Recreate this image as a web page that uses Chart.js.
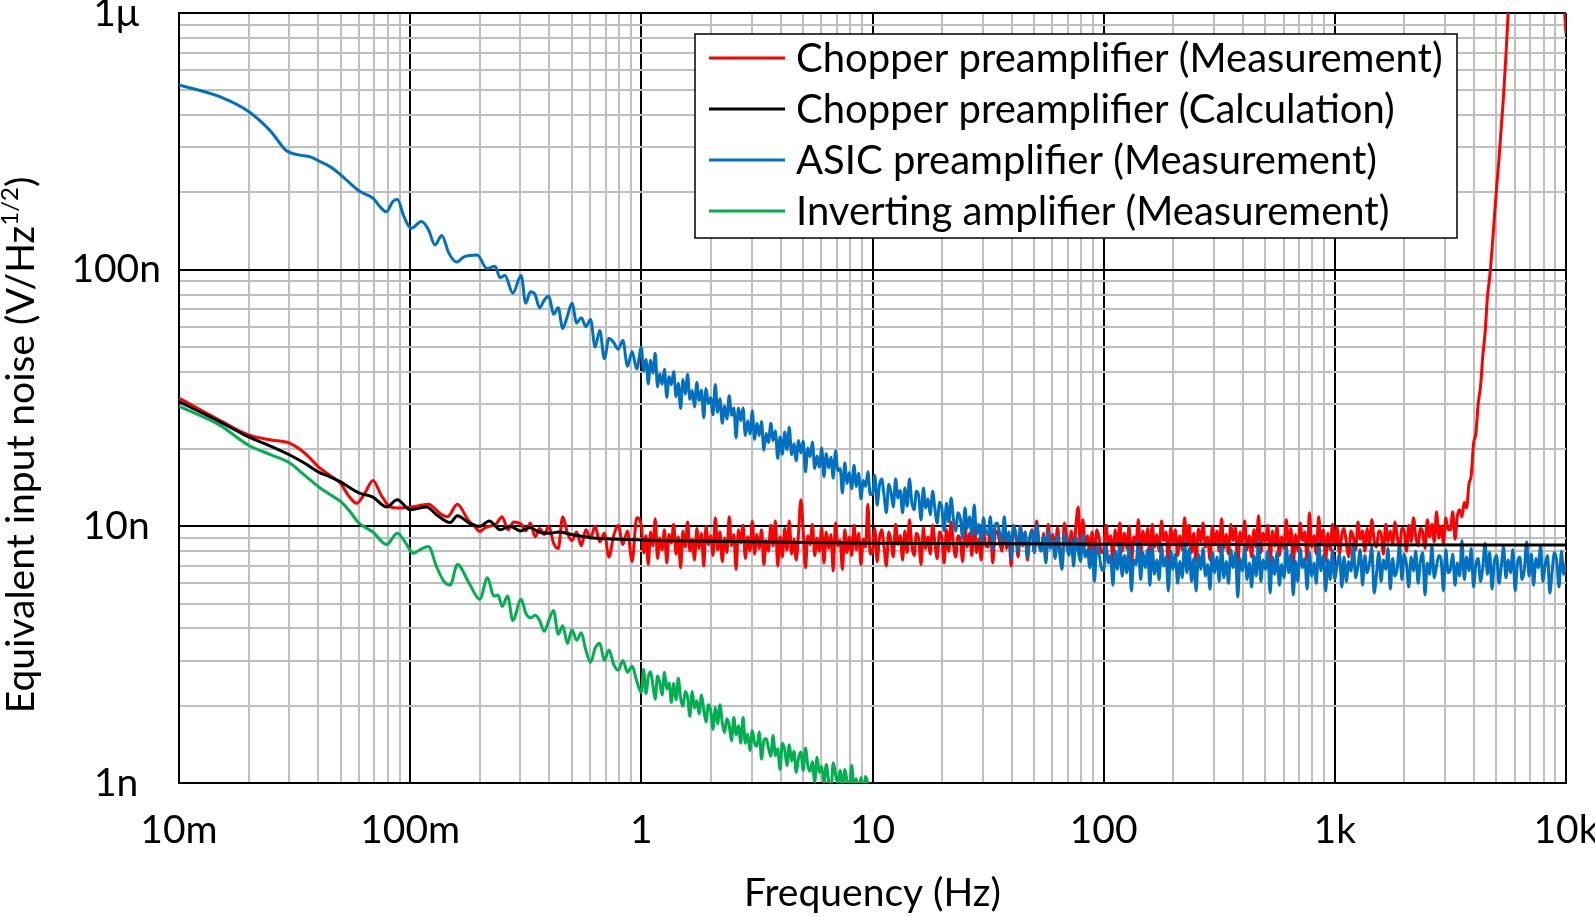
<!DOCTYPE html>
<html>
<head>
<meta charset="utf-8">
<script src="https://cdn.jsdelivr.net/npm/chart.js@4.4.1/dist/chart.umd.min.js"></script>
<style>
  html, body { margin: 0; padding: 0; background: #fff; }
  #wrap { width: 1595px; height: 917px; }
</style>
</head>
<body>
<div id="wrap"><canvas id="noise-chart"></canvas></div>
<script>
// values are in nV/Hz^1/2, frequency in Hz
const seriesLabels = [
  'Chopper preamplifier (Measurement)',
  'Chopper preamplifier (Calculation)',
  'ASIC preamplifier (Measurement)',
  'Inverting amplifier (Measurement)'
];
const seriesColors = ['#ff0000', '#000000', '#0070c0', '#00b050'];

const xTickValues = [0.01, 0.1, 1, 10, 100, 1000, 10000];
const xTickLabels = ['10m', '100m', '1', '10', '100', '1k', '10k'];
const yTickValues = [1, 10, 100, 1000];
const yTickLabels = ['1n', '10n', '100n', '1\u03bc'];

// spectrum bins shared by the noisy measurements (0.3 Hz .. 10 kHz)
const fftFreq = [
  0.302, 0.316, 0.331, 0.347, 0.363, 0.380, 0.398, 0.417, 0.437, 0.457, 0.479, 0.501, 0.525, 0.550, 0.575, 0.603, 0.631, 0.661, 0.692, 0.724, 0.759, 0.794, 0.832, 0.871, 0.912, 0.955,
  1, 1.023, 1.047, 1.072, 1.096, 1.122, 1.148, 1.175, 1.202, 1.23, 1.259, 1.288, 1.318, 1.349, 1.38, 1.413, 1.445, 1.479, 1.514, 1.549,
  1.585, 1.622, 1.66, 1.698, 1.738, 1.778, 1.82, 1.862, 1.905, 1.95, 1.995, 2.042, 2.089, 2.138, 2.188, 2.239, 2.291, 2.344, 2.399, 2.455,
  2.512, 2.57, 2.63, 2.692, 2.754, 2.818, 2.884, 2.951, 3.02, 3.09, 3.162, 3.236, 3.311, 3.388, 3.467, 3.548, 3.631, 3.715, 3.802, 3.89,
  3.981, 4.074, 4.169, 4.266, 4.365, 4.467, 4.571, 4.677, 4.786, 4.898, 5.012, 5.129, 5.248, 5.37, 5.495, 5.623, 5.754, 5.888, 6.026, 6.166,
  6.31, 6.457, 6.607, 6.761, 6.918, 7.079, 7.244, 7.413, 7.586, 7.762, 7.943, 8.128, 8.318, 8.511, 8.71, 8.913, 9.12, 9.333, 9.55, 9.772,
  10, 10.23, 10.47, 10.72, 10.96, 11.22, 11.48, 11.75, 12.02, 12.3, 12.59, 12.88, 13.18, 13.49, 13.8, 14.13, 14.45, 14.79, 15.14, 15.49,
  15.85, 16.22, 16.6, 16.98, 17.38, 17.78, 18.2, 18.62, 19.05, 19.5, 19.95, 20.42, 20.89, 21.38, 21.88, 22.39, 22.91, 23.44, 23.99, 24.55,
  25.12, 25.7, 26.3, 26.92, 27.54, 28.18, 28.84, 29.51, 30.2, 30.9, 31.62, 32.36, 33.11, 33.88, 34.67, 35.48, 36.31, 37.15, 38.02, 38.9,
  39.81, 40.74, 41.69, 42.66, 43.65, 44.67, 45.71, 46.77, 47.86, 48.98, 50.12, 51.29, 52.48, 53.7, 54.95, 56.23, 57.54, 58.88, 60.26, 61.66,
  63.1, 64.57, 66.07, 67.61, 69.18, 70.79, 72.44, 74.13, 75.86, 77.62, 79.43, 81.28, 83.18, 85.11, 87.1, 89.13, 91.2, 93.33, 95.5, 97.72,
  100, 102.3, 104.7, 107.2, 109.6, 112.2, 114.8, 117.5, 120.2, 123, 125.9, 128.8, 131.8, 134.9, 138, 141.3, 144.5, 147.9, 151.4, 154.9,
  158.5, 162.2, 166, 169.8, 173.8, 177.8, 182, 186.2, 190.5, 195, 199.5, 204.2, 208.9, 213.8, 218.8, 223.9, 229.1, 234.4, 239.9, 245.5,
  251.2, 257, 263, 269.2, 275.4, 281.8, 288.4, 295.1, 302, 309, 316.2, 323.6, 331.1, 338.8, 346.7, 354.8, 363.1, 371.5, 380.2, 389,
  398.1, 407.4, 416.9, 426.6, 436.5, 446.7, 457.1, 467.7, 478.6, 489.8, 501.2, 512.9, 524.8, 537, 549.5, 562.3, 575.4, 588.8, 602.6, 616.6,
  631, 645.7, 660.7, 676.1, 691.8, 707.9, 724.4, 741.3, 758.6, 776.2, 794.3, 812.8, 831.8, 851.1, 871, 891.3, 912, 933.3, 955, 977.2,
  1000, 1023, 1047, 1072, 1096, 1122, 1148, 1175, 1202, 1230, 1259, 1288, 1318, 1349, 1380, 1413, 1445, 1479, 1514, 1549,
  1585, 1622, 1660, 1698, 1738, 1778, 1820, 1862, 1905, 1950, 1995, 2042, 2089, 2138, 2188, 2239, 2291, 2344, 2399, 2455,
  2512, 2570, 2630, 2692, 2754, 2818, 2884, 2951, 3020, 3090, 3162, 3236, 3311, 3388, 3467, 3548, 3631, 3715, 3802, 3890,
  3981, 4074, 4169, 4266, 4365, 4467, 4571, 4677, 4786, 4898, 5012, 5129, 5248, 5370, 5495, 5623, 5754, 5888, 6026, 6166,
  6310, 6457, 6607, 6761, 6918, 7079, 7244, 7413, 7586, 7762, 7943, 8128, 8318, 8511, 8710, 8913, 9120, 9333, 9550, 9772,
  10000
];

// Chopper preamplifier (Measurement)
const chopperLowFreq = [0.01, 0.015, 0.02, 0.025, 0.03, 0.035, 0.04, 0.045, 0.05, 0.054, 0.0587, 0.064, 0.069, 0.075, 0.082, 0.09, 0.1, 0.11, 0.12, 0.135, 0.145, 0.16, 0.178, 0.19, 0.2, 0.21, 0.22, 0.235, 0.25, 0.265, 0.28];
const chopperLow = [31.6, 25.9, 22.7, 21.7, 21.1, 19.3, 17.1, 15.8, 14.7, 13.2, 12.3, 13.6, 15.1, 13.2, 11.9, 11.8, 11.9, 12.05, 12.2, 11.2, 10.9, 12.2, 10.6, 10.0, 9.55, 9.85, 10.0, 10.2, 10.9, 9.7, 10.4];
const chopperFft = [
  10.2, 9.6, 10.3, 9.1, 9.8, 9.3, 10.0, 8.6, 8.2, 10.9, 9.4, 8.8, 9.5, 8.4, 9.7, 9.0, 10.0, 8.7, 9.4, 7.6, 9.2, 10.1, 8.5, 9.6, 7.3, 10.8,
  10.1, 7.9, 9.2, 7.1, 9.5, 8.4, 10.7, 7.5, 9.0, 8.1, 9.7, 7.2, 9.3, 8.6, 10.2, 7.8, 9.1, 6.9, 9.6, 8.3,
  10.4, 8.0, 8.9, 7.4, 9.8, 8.2, 9.4, 7.0, 10.0, 8.5, 9.2, 7.7, 10.8, 8.1, 9.5, 7.3, 9.0, 7.9, 10.9, 8.4,
  9.3, 6.8, 9.7, 8.6, 10.1, 7.5, 9.1, 8.0, 10.5, 7.8, 9.3, 8.2, 9.7, 7.1, 8.8, 8.0, 10.1, 8.4, 10.5, 7.0,
  9.1, 7.6, 9.8, 8.1, 10.5, 7.8, 8.9, 7.4, 9.4, 12.7, 9.6, 6.9, 9.2, 8.5, 10.2, 7.7, 9.0, 8.0, 9.9, 7.2,
  9.5, 8.2, 9.3, 6.7, 10.3, 8.4, 8.8, 6.8, 9.7, 7.9, 9.1, 7.7, 10.1, 8.1, 9.4, 7.1, 8.9, 8.3, 12.2, 7.8,
  8.0, 9.8, 7.3, 9.0, 9.7, 8.3, 7.0, 9.5, 8.8, 7.6, 10.2, 8.5, 9.2, 7.4, 9.6, 7.9, 10.6, 8.4, 7.7, 9.4,
  8.9, 7.1, 9.9, 8.2, 9.1, 7.8, 10.1, 8.6, 7.5, 9.5, 9.0, 7.2, 9.7, 8.0, 10.4, 8.5, 7.6, 9.2, 8.8, 7.3,
  10.0, 8.3, 9.4, 7.7, 10.7, 7.9, 8.9, 7.4, 9.6, 8.4, 8.3, 10.1, 7.2, 9.3, 9.6, 8.7, 8.0, 10.4, 8.2, 9.1,
  7.0, 9.9, 9.2, 7.6, 10.0, 8.4, 9.5, 7.4, 9.0, 9.7, 7.9, 10.5, 8.6, 8.1, 9.4, 7.3, 10.2, 8.5, 9.3, 7.7,
  9.9, 8.2, 7.1, 10.3, 9.1, 8.3, 9.6, 7.5, 10.1, 11.9, 8.0, 10.6, 8.4, 9.2, 7.7, 9.5, 7.4, 9.7, 9.0, 7.9,
  8.1, 10.1, 8.6, 9.2, 7.4, 9.7, 8.4, 10.3, 8.0, 9.4, 8.2, 10.0, 7.1, 9.1, 8.7, 10.6, 7.8, 9.6, 8.5, 9.8,
  7.6, 10.2, 8.3, 9.3, 8.0, 10.5, 8.8, 9.5, 7.2, 9.9, 8.6, 9.7, 7.7, 9.2, 8.1, 10.8, 8.4, 10.1, 7.9, 9.4,
  7.3, 9.8, 8.7, 10.3, 8.3, 9.1, 7.4, 10.0, 8.5, 9.6, 8.0, 10.7, 8.2, 9.3, 7.8, 10.2, 8.8, 9.9, 7.0, 9.5,
  8.6, 10.5, 8.1, 9.2, 7.6, 9.7, 8.3, 11.0, 7.9, 9.4, 8.7, 10.1, 7.2, 9.6, 8.4, 10.0, 7.7, 9.1, 8.2, 10.6,
  8.5, 9.8, 7.1, 9.3, 8.0, 10.3, 8.8, 9.5, 7.4, 11.3, 8.3, 9.2, 7.8, 10.9, 8.6, 9.7, 7.3, 9.4, 8.1, 10.2,
  8.5, 9.9, 7.8, 9.3, 9.8, 8.6, 7.6, 9.6, 9.1, 8.1, 10.4, 8.9, 9.6, 8.0, 9.8, 8.5, 10.6, 8.8, 8.3, 9.6,
  9.4, 7.8, 10.2, 8.7, 9.6, 8.5, 10.4, 9.1, 8.2, 9.8, 9.6, 8.0, 10.1, 8.7, 10.8, 9.1, 8.4, 9.8, 9.5, 8.2,
  10.6, 9.1, 10.2, 8.7, 11.4, 9.0, 10.0, 8.6, 10.8, 9.7, 9.7, 11.4, 8.9, 11.0, 11.6, 10.9, 12.4, 11.8, 14.6, 15.8,
  21, 23, 30, 35, 46, 57, 78, 94, 120, 160, 210, 270, 360, 480, 680, 1000, 1400, 2000, 2800, 3600,
  4500, 5500, 6500, 7500, 8000, 8500, 9000, 9000, 9000, 8500, 8000, 7000, 6000, 5000, 4000, 3200, 2500, 2000, 1500, 1150,
  830
];

// Chopper preamplifier (Calculation)
const calcFreq = [0.01, 0.015, 0.02, 0.025, 0.03, 0.035, 0.04, 0.045, 0.05, 0.06, 0.069, 0.079, 0.088, 0.1, 0.118, 0.13, 0.149, 0.16, 0.18, 0.2, 0.22, 0.245, 0.27, 0.3, 0.33, 0.36, 0.4, 0.44, 0.5, 0.62, 0.8, 1.2, 3, 10, 100, 1000, 10000];
const calcNoise = [30.6, 25.6, 22.3, 20.5, 19.0, 17.6, 16.3, 15.6, 14.9, 13.5, 13.0, 11.9, 12.7, 11.6, 11.9, 11.1, 10.35, 11.0, 10.3, 10.0, 10.5, 9.7, 10.0, 9.6, 9.9, 9.5, 9.4, 9.5, 9.3, 9.0, 8.9, 8.8, 8.7, 8.6, 8.52, 8.48, 8.45];

// ASIC preamplifier (Measurement)
const asicLowFreq = [0.01, 0.015, 0.02, 0.025, 0.029, 0.033, 0.037, 0.041, 0.045, 0.049, 0.055, 0.061, 0.069, 0.074, 0.079, 0.084, 0.088, 0.094, 0.101, 0.112, 0.12, 0.128, 0.137, 0.147, 0.159, 0.17, 0.195, 0.215, 0.233, 0.245, 0.257, 0.278];
const asicLow = [525, 472, 413, 345, 292, 280, 275, 263, 252, 238, 217, 201, 190, 176, 168, 184, 188, 161, 145, 154, 143, 125, 136, 116, 107, 112, 114, 101, 103, 93, 95, 81];
const asicFft = [
  95, 74, 82, 80, 71, 76, 79, 67, 71, 59, 66, 74, 62, 65, 60, 64, 50, 58, 45, 54, 52, 49, 53, 42, 48, 41,
  49.8, 40.2, 44.7, 35.9, 44.4, 39.5, 47.2, 34.9, 39.3, 35.7, 40.9, 31.8, 38.3, 35.6, 40.1, 32, 36.1, 28.8, 37.3, 32.8,
  39.1, 31.3, 33.8, 29.2, 36.3, 30.9, 33.9, 26.5, 34.4, 30.1, 31.7, 27.2, 35.7, 27.8, 31.4, 25.2, 29.4, 26.2, 32.3, 27.1,
  28.9, 22.1, 28.9, 25.8, 28.9, 22.6, 25.8, 22.9, 28.2, 21.8, 25.2, 22.6, 25.6, 19.8, 23, 21.2, 25.2, 21.6, 23.5, 18.4,
  22.3, 19.1, 23.3, 19.9, 24.3, 19, 21, 18, 21.6, 19.3, 21.5, 16.3, 20.2, 18.7, 21.3, 16.8, 18.8, 17, 20.2, 15.6,
  19.2, 16.9, 18.6, 15.4, 19.7, 16.5, 16.8, 13.5, 17.7, 14.7, 16.2, 14, 17.3, 14.3, 16.1, 12.8, 15.1, 14.3, 16.3, 13.3,
  13.4, 15.8, 12.1, 14.5, 15.3, 13.2, 11.3, 14.6, 13.6, 11.9, 15.3, 12.9, 13.8, 11.3, 14.1, 12, 15.3, 12.4, 11.6, 13.7,
  13.1, 10.6, 14.1, 11.8, 12.8, 11.1, 13.7, 11.7, 10.3, 12.4, 11.8, 9.6, 12.3, 10.4, 12.9, 10.7, 9.6, 11.3, 10.7, 9,
  11.8, 9.8, 10.9, 9.2, 12.1, 9.3, 10.2, 8.6, 10.8, 9.5, 9.3, 10.9, 8.1, 10.1, 10.3, 9.4, 8.7, 10.9, 8.7, 9.5,
  7.5, 10.1, 9.4, 8, 10, 8.6, 9.5, 7.6, 9, 9.6, 7.9, 10.2, 8.5, 8, 9.1, 7.2, 9.6, 8.2, 8.8, 7.5,
  9.2, 7.8, 6.8, 9.4, 8.4, 7.7, 8.8, 7, 9.1, 8, 7.3, 9.3, 7.6, 8.1, 6.9, 8.3, 6.1, 8.4, 7.8, 6.9,
  6.7, 8.6, 7.2, 7.7, 5.9, 8.0, 6.8, 8.6, 6.4, 7.7, 6.6, 8.3, 5.6, 7.4, 7.1, 8.8, 6.2, 7.9, 6.9, 8.1,
  5.9, 8.3, 6.5, 7.4, 6.2, 8.4, 7.0, 7.6, 5.6, 8.0, 6.8, 7.8, 6.0, 7.3, 6.3, 8.7, 6.6, 8.2, 6.1, 7.5,
  5.6, 7.8, 6.8, 8.2, 6.4, 7.1, 5.7, 7.9, 6.6, 7.6, 6.1, 8.5, 6.3, 7.3, 6.0, 8.1, 6.9, 7.9, 5.3, 7.5,
  6.7, 8.3, 6.2, 7.2, 5.8, 7.7, 6.4, 8.8, 6.1, 7.4, 6.8, 8.0, 5.5, 7.6, 6.5, 7.9, 5.9, 7.1, 6.3, 8.4,
  6.6, 7.8, 5.4, 7.3, 6.1, 8.2, 6.9, 7.5, 5.7, 7.9, 6.4, 7.2, 6.0, 8.7, 6.7, 7.7, 5.6, 7.4, 6.2, 8.1,
  6.2, 7.1, 7.8, 5.8, 7.6, 6.1, 7.3, 6.7, 8.6, 6.3, 7.0, 8.1, 5.9, 7.7, 6.6, 7.2, 8.3, 5.5, 6.5, 7.9,
  6.1, 7.4, 6.8, 8.2, 5.7, 7.5, 6.4, 6.9, 8.5, 6.2, 7.8, 7.1, 5.8, 7.6, 6.7, 8.0, 6.0, 7.3, 7.9, 5.4,
  7.2, 6.5, 8.4, 6.3, 7.0, 7.7, 7.4, 5.6, 8.1, 6.6, 6.8, 7.8, 5.9, 7.2, 6.4, 8.8, 6.2, 7.6, 6.7, 8.2,
  5.8, 7.1, 7.5, 6.1, 6.9, 8.6, 6.5, 7.9, 5.7, 7.3, 7.7, 6.0, 7.0, 8.3, 6.3, 7.4, 6.6, 8.1, 5.6, 7.2,
  7.6, 6.2, 6.8, 8.7, 6.4, 7.8, 5.9, 7.5, 6.9, 8.4, 6.1, 7.1, 7.7, 5.5, 6.7, 7.9, 7.3, 5.8, 8.0, 6.5,
  7.2
];

// Inverting amplifier (Measurement), ends at 10 Hz
const invLowFreq = [0.01, 0.015, 0.02, 0.025, 0.03, 0.035, 0.04, 0.045, 0.05, 0.055, 0.06, 0.069, 0.079, 0.088, 0.095, 0.103, 0.11, 0.12, 0.13, 0.14, 0.149, 0.16, 0.18, 0.2, 0.216, 0.23, 0.24, 0.25, 0.264, 0.278];
const invLow = [29.4, 24.8, 20.7, 19.0, 17.7, 15.8, 14.3, 13.3, 12.5, 11.4, 10.3, 9.5, 8.5, 9.4, 8.7, 7.85, 8.1, 8.35, 6.97, 6.1, 5.9, 7.1, 6.0, 5.2, 6.3, 5.35, 5.4, 4.87, 5.35, 4.3];
const invFft = [
  5.2, 4.6, 4.4, 4.5, 4.3, 3.9, 4.3, 4.7, 3.8, 4.1, 3.5, 3.95, 3.6, 3.85, 3.3, 2.95, 3.35, 3.5, 3.0, 3.3, 2.9, 2.75, 3.0, 2.7, 2.85, 2.5,
  2.25, 2.77, 2.23, 2.59, 2.71, 2.41, 2.12, 2.61, 2.46, 2.2, 2.7, 2.33, 2.45, 2.06, 2.44, 2.11, 2.56, 2.14, 1.99, 2.27,
  2.16, 1.82, 2.27, 1.96, 2.09, 1.86, 2.2, 1.93, 1.73, 2.02, 1.92, 1.62, 1.97, 1.7, 2.02, 1.72, 1.57, 1.78, 1.68, 1.46,
  1.8, 1.54, 1.67, 1.43, 1.8, 1.43, 1.55, 1.34, 1.6, 1.43, 1.39, 1.58, 1.24, 1.46, 1.49, 1.37, 1.27, 1.53, 1.28, 1.36,
  1.13, 1.43, 1.35, 1.17, 1.41, 1.22, 1.33, 1.1, 1.25, 1.32, 1.12, 1.37, 1.17, 1.11, 1.21, 1.01, 1.26, 1.1, 1.16, 1.0,
  1.18, 1.02, 0.92, 1.2, 1.08, 1.0, 1.12, 0.93, 1.13, 1.02, 0.95, 1.17, 0.97, 1.04, 0.91, 1.05, 0.87, 1.06, 0.99, 0.9,
  0.95
];

const FONT = 'Lato, "Open Sans", sans-serif';
const FONT_SIZE = 39;
const LEGEND_SIZE = 40;

function toPoints(freqs, values) {
  return freqs.map((f, i) => ({ x: f, y: values[i] }));
}

function gridValues(decades) {
  const out = [];
  decades.forEach((d, i) => {
    if (i === decades.length - 1) { out.push(d); return; }
    for (let m = 1; m <= 9; m++) out.push(+(d * m).toPrecision(3));
  });
  return out;
}

const xGrid = gridValues(xTickValues);
const yGrid = gridValues(yTickValues);

const yTitlePlugin = {
  id: 'yTitle',
  afterDraw(chart) {
    const ctx = chart.ctx;
    const mainFont = FONT_SIZE + 'px ' + FONT;
    const supFont = Math.round(FONT_SIZE * 0.62) + 'px ' + FONT;
    const a = 'Equivalent input noise (V/Hz';
    const sup = '1/2';
    const b = ')';
    ctx.save();
    ctx.font = mainFont;
    const wa = ctx.measureText(a).width;
    const wb = ctx.measureText(b).width;
    ctx.font = supFont;
    const ws = ctx.measureText(sup).width;
    const total = wa + ws + wb;
    ctx.translate(20, 445);
    ctx.rotate(-Math.PI / 2);
    ctx.fillStyle = '#000';
    ctx.textBaseline = 'alphabetic';
    let x = -total / 2;
    ctx.font = mainFont;
    ctx.fillText(a, x, 14);
    x += wa;
    ctx.font = supFont;
    ctx.fillText(sup, x, -2);
    x += ws;
    ctx.font = mainFont;
    ctx.fillText(b, x, 14);
    ctx.restore();
  }
};

const legendBoxPlugin = {
  id: 'legendBox',
  afterDraw(chart) {
    const ctx = chart.ctx;
    ctx.save();
    ctx.fillStyle = '#fff';
    ctx.fillRect(695, 34, 762, 204);
    ctx.strokeStyle = '#000';
    ctx.lineWidth = 1.5;
    ctx.strokeRect(695, 34, 762, 204);
    ctx.font = LEGEND_SIZE + 'px ' + FONT;
    ctx.textBaseline = 'middle';
    chart.data.datasets.forEach((ds, i) => {
      const y = 58 + i * 51;
      ctx.strokeStyle = ds.borderColor;
      ctx.lineWidth = 3;
      ctx.beginPath();
      ctx.moveTo(709, y);
      ctx.lineTo(785, y);
      ctx.stroke();
      ctx.fillStyle = '#000';
      ctx.fillText(ds.label, 796, y + 1);
    });
    ctx.restore();
  }
};

function lineSet(idx, data, order) {
  return {
    label: seriesLabels[idx],
    data: data,
    borderColor: seriesColors[idx],
    backgroundColor: seriesColors[idx],
    borderWidth: 3,
    pointRadius: 0,
    fill: false,
    cubicInterpolationMode: 'monotone',
    order: order
  };
}

const datasets = [
  lineSet(0, toPoints(chopperLowFreq.concat(fftFreq), chopperLow.concat(chopperFft)), 2),
  lineSet(1, toPoints(calcFreq, calcNoise), 0),
  lineSet(2, toPoints(asicLowFreq.concat(fftFreq), asicLow.concat(asicFft)), 1),
  lineSet(3, toPoints(invLowFreq.concat(fftFreq.slice(0, invFft.length)), invLow.concat(invFft)), 3)
];

function gridColor(ctx) {
  return ctx.tick && ctx.tick.major ? '#000000' : '#bfbfbf';
}

Chart.defaults.font.family = FONT;
Chart.defaults.font.size = FONT_SIZE;
Chart.defaults.color = '#000';

new Chart(document.getElementById('noise-chart'), {
  type: 'line',
  data: { datasets: datasets },
  plugins: [yTitlePlugin, legendBoxPlugin],
  options: {
    responsive: true,
    maintainAspectRatio: false,
    animation: false,
    layout: { padding: { top: 13, right: 29, bottom: 0, left: 0 } },
    plugins: {
      legend: { display: false },
      tooltip: { enabled: false }
    },
    scales: {
      x: {
        type: 'logarithmic',
        min: 0.01,
        max: 10000,
        afterBuildTicks: (scale) => {
          scale.ticks = xGrid.map(v => ({ value: v, major: xTickValues.includes(v) }));
        },
        afterFit: (scale) => {
          scale.height = 134;
          scale.paddingLeft = 0;
          scale.paddingRight = 0;
        },
        ticks: {
          autoSkip: false,
          maxRotation: 0,
          padding: 24,
          callback: (value) => {
            const i = xTickValues.indexOf(value);
            return i >= 0 ? xTickLabels[i] : '';
          }
        },
        grid: { color: gridColor, lineWidth: 2, drawTicks: false },
        border: { display: true, color: '#000', width: 2 },
        title: {
          display: true,
          text: 'Frequency (Hz)',
          padding: { top: 0, bottom: 0 }
        }
      },
      y: {
        type: 'logarithmic',
        min: 1,
        max: 1000,
        afterBuildTicks: (scale) => {
          scale.ticks = yGrid.map(v => ({ value: v, major: yTickValues.includes(v) }));
        },
        afterFit: (scale) => {
          scale.width = 179;
          scale.paddingTop = 0;
          scale.paddingBottom = 0;
        },
        ticks: {
          autoSkip: false,
          crossAlign: 'center',
          padding: 18,
          callback: (value) => {
            const i = yTickValues.indexOf(value);
            return i >= 0 ? yTickLabels[i] : '';
          }
        },
        grid: { color: gridColor, lineWidth: 2, drawTicks: false },
        border: { display: true, color: '#000', width: 2 }
      }
    }
  }
});
</script>
</body>
</html>
